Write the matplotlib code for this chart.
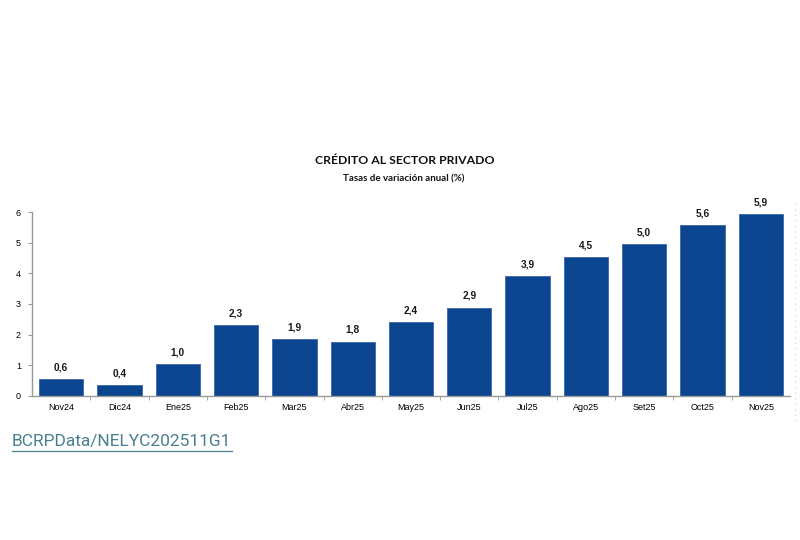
import matplotlib.pyplot as plt
from matplotlib.lines import Line2D

months = ["Nov24", "Dic24", "Ene25", "Feb25", "Mar25", "Abr25", "May25",
          "Jun25", "Jul25", "Ago25", "Set25", "Oct25", "Nov25"]
values = [0.56, 0.36, 1.03, 2.31, 1.86, 1.77, 2.42, 2.88, 3.91, 4.52, 4.96, 5.56, 5.93]

title = "CRÉDITO AL SECTOR PRIVADO"
subtitle = "Tasas de variación anual (%)"
source = "BCRPData/NELYC202511G1"

bar_color = "#0C458F"

fig = plt.figure(figsize=(8, 5.4), dpi=100)
ax = fig.add_axes([0.04, 0.2667, 0.9475, 0.3407])

x = list(range(len(months)))
ax.bar(x, values, width=0.76, color=bar_color, edgecolor="#3a66a8", linewidth=0.6)

for xi, v in zip(x, values):
    ax.text(xi, v + 0.22, f"{v:.1f}".replace(".", ","), ha="center", va="bottom",
            fontsize=7.3, fontweight="bold", family="Liberation Sans", color="#1a1a1a")

ax.set_xlim(-0.5, len(months) - 0.5)
ax.set_ylim(0, 6)
ax.set_yticks(range(0, 7))
ax.set_xticks(x)
ax.set_xticklabels(months, family="Liberation Sans", fontsize=6.5)
ax.set_xticks([i + 0.5 for i in x[:-1]], minor=True)
ax.tick_params(axis="x", which="major", length=0, pad=5)
ax.tick_params(axis="x", which="minor", length=3, color="#999999")
ax.tick_params(axis="y", length=3, color="#999999", labelsize=6.5, pad=5)
for lbl in ax.get_yticklabels():
    lbl.set_family("Liberation Sans")

for side in ["top", "right"]:
    ax.spines[side].set_visible(False)
for side in ["left", "bottom"]:
    ax.spines[side].set_color("#999999")
    ax.spines[side].set_linewidth(1)

fig.text(0.506, 0.703, title, ha="center", va="center", fontsize=8.8,
         fontweight="bold", family="Lato", color="#111111")
fig.text(0.505, 0.669, subtitle, ha="center", va="center", fontsize=7,
         fontweight="bold", family="Lato", color="#111111")

fig.text(0.015, 0.182, source, ha="left", va="center", fontsize=12.5,
         family="Roboto", color="#4a7f8f")
fig.add_artist(Line2D([0.015, 0.29], [0.164, 0.164], color="#4a7f8f", linewidth=0.9))

fig.add_artist(Line2D([0.994, 0.994], [0.22, 0.63], color="#cccccc",
                      linewidth=0.8, linestyle=(0, (1, 4))))

fig.savefig("out.png", dpi=100, facecolor="white")
